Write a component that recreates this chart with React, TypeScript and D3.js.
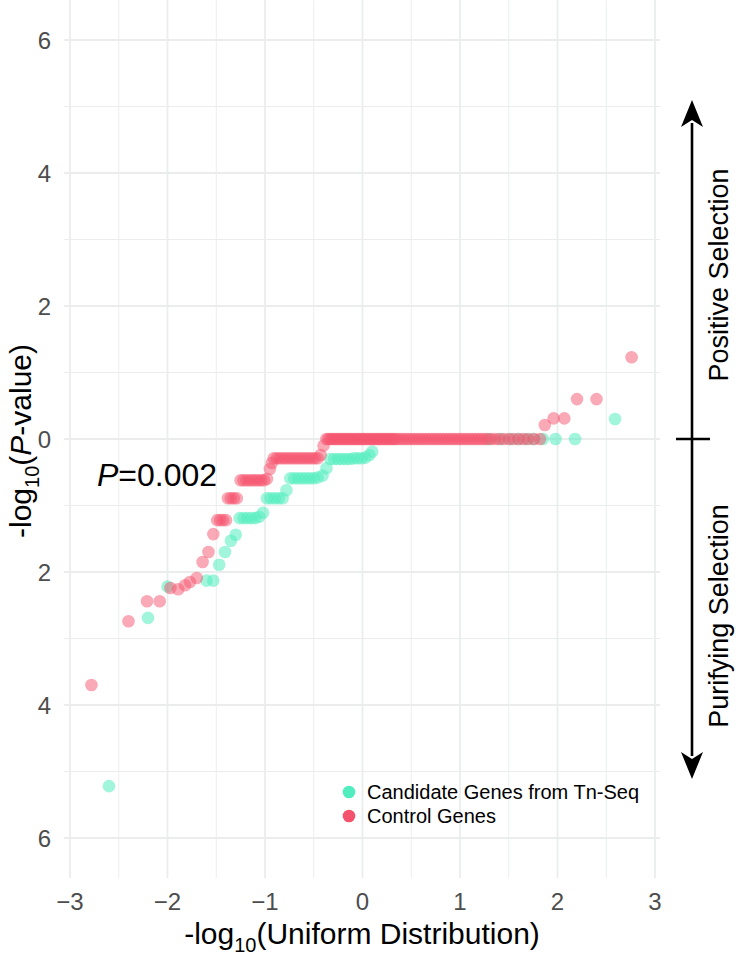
import React from "react";
import * as d3 from "d3";

// ---- data ----
// Candidate genes from Tn-Seq: [signed -log10 uniform, signed -log10 P]
const candidatePoints: [number, number][] = [
  [-2.6, -5.22], [-2.2, -2.69], [-2.0, -2.22], [-1.6, -2.13], [-1.53, -2.13],
  [-1.47, -1.89], [-1.41, -1.7], [-1.35, -1.53], [-1.3, -1.44],
  [-1.26, -1.19], [-1.22, -1.19], [-1.18, -1.19], [-1.14, -1.19], [-1.1, -1.19], [-1.06, -1.17],
  [-1.02, -1.11], [-0.98, -0.89], [-0.94, -0.89], [-0.9, -0.89], [-0.86, -0.89], [-0.82, -0.89],
  [-0.78, -0.77], [-0.74, -0.59], [-0.7, -0.59], [-0.66, -0.59], [-0.62, -0.59], [-0.58, -0.59],
  [-0.54, -0.59], [-0.5, -0.59], [-0.46, -0.58], [-0.41, -0.55], [-0.37, -0.44],
  [-0.33, -0.3], [-0.29, -0.3], [-0.25, -0.3], [-0.21, -0.3], [-0.17, -0.3], [-0.13, -0.3],
  [-0.09, -0.29], [-0.05, -0.29], [-0.01, -0.29], [0.03, -0.28], [0.07, -0.24], [0.1, -0.19],
  [1.3, 0], [1.42, 0], [1.52, 0], [1.6, 0], [1.68, 0], [1.75, 0],
  [1.85, 0], [1.98, 0], [2.18, 0], [2.59, 0.3],
];

// Control genes: [signed -log10 uniform, signed -log10 P]
const controlPoints: [number, number][] = [
  [-2.78, -3.7], [-2.4, -2.74], [-2.21, -2.44], [-2.08, -2.44], [-1.97, -2.24],
  [-1.89, -2.26], [-1.82, -2.2], [-1.77, -2.15], [-1.7, -2.09], [-1.64, -1.85],
  [-1.58, -1.7], [-1.53, -1.43], [-1.49, -1.22], [-1.46, -1.22], [-1.43, -1.22], [-1.4, -1.22],
  [-1.38, -0.89], [-1.35, -0.89], [-1.32, -0.89], [-1.29, -0.89],
  [-1.25, -0.62], [-1.22, -0.62], [-1.19, -0.62], [-1.16, -0.62], [-1.13, -0.62], [-1.1, -0.62],
  [-1.07, -0.62], [-1.04, -0.62], [-1.01, -0.62], [-0.98, -0.6], [-0.95, -0.45], [-0.93, -0.36],
  [-0.91, -0.29], [-0.88, -0.29], [-0.85, -0.29], [-0.82, -0.29], [-0.79, -0.29], [-0.76, -0.29],
  [-0.73, -0.29], [-0.7, -0.29], [-0.67, -0.29], [-0.64, -0.29], [-0.61, -0.29], [-0.58, -0.29],
  [-0.55, -0.29], [-0.52, -0.29], [-0.49, -0.29], [-0.46, -0.29], [-0.43, -0.24], [-0.4, -0.1],
  [-0.37, 0], [-0.35, 0], [-0.33, 0], [-0.31, 0], [-0.29, 0], [-0.27, 0], [-0.25, 0], [-0.23, 0],
  [-0.21, 0], [-0.19, 0], [-0.17, 0], [-0.15, 0], [-0.13, 0], [-0.11, 0], [-0.09, 0], [-0.07, 0],
  [-0.05, 0], [-0.03, 0], [-0.01, 0], [0.01, 0], [0.03, 0], [0.05, 0], [0.07, 0], [0.09, 0],
  [0.11, 0], [0.13, 0], [0.15, 0], [0.17, 0], [0.19, 0], [0.21, 0], [0.23, 0], [0.25, 0],
  [0.27, 0], [0.29, 0], [0.31, 0], [0.33, 0], [0.35, 0], [0.38, 0], [0.41, 0], [0.44, 0],
  [0.47, 0], [0.5, 0], [0.53, 0], [0.56, 0], [0.59, 0], [0.62, 0], [0.65, 0], [0.68, 0],
  [0.71, 0], [0.74, 0], [0.77, 0], [0.8, 0], [0.83, 0], [0.86, 0], [0.89, 0], [0.92, 0],
  [0.95, 0], [0.98, 0], [1.01, 0], [1.04, 0], [1.07, 0], [1.1, 0], [1.13, 0], [1.16, 0],
  [1.19, 0], [1.22, 0], [1.25, 0], [1.28, 0], [1.32, 0], [1.36, 0], [1.4, 0], [1.45, 0],
  [1.5, 0], [1.55, 0], [1.6, 0], [1.65, 0], [1.7, 0], [1.76, 0], [1.82, 0],
  [1.87, 0.21], [1.96, 0.31], [2.07, 0.31], [2.2, 0.6], [2.4, 0.6], [2.76, 1.23],
];

const xMajor = [-3, -2, -1, 0, 1, 2, 3];
const xMinor = [-2.5, -1.5, -0.5, 0.5, 1.5, 2.5];
const yMajor = [-6, -4, -2, 0, 2, 4, 6];
const yMinor = [-5, -3, -1, 1, 3, 5];
const yTickLabels = ["6", "4", "2", "0", "2", "4", "6"];
const xTickLabels = ["\u22123", "\u22122", "\u22121", "0", "1", "2", "3"];

const legendItems = [
  { label: "Candidate Genes from Tn-Seq", color: "#52EDBE" },
  { label: "Control Genes", color: "#F5536D" },
];

const FONT = "'Liberation Sans', Arial, Helvetica, sans-serif";

export default function App() {
  const W = 738;
  const H = 956;
  const x = d3.scaleLinear().domain([-3, 3]).range([70, 655]);
  const y = d3.scaleLinear().domain([0, 6]).range([439, 40]);
  const xDom: [number, number] = [-3.06, 3.05];
  const yDom: [number, number] = [-6.6, 6.6];
  const px0 = x(xDom[0]), px1 = x(xDom[1]);
  const py0 = y(yDom[1]), py1 = y(yDom[0]);
  const grid = "#EBEDED";
  const r = 6.3;

  const arrowX = 692;
  const arrowTop = 100;
  const arrowBot = 779;
  const headL = 27;
  const headW = 11;

  return (
    <svg width={W} height={H} style={{ position: "absolute", left: 0, top: 0, background: "#fff" }}
      fontFamily={FONT}>
      {/* grid */}
      {xMinor.map((v) => (
        <line key={"xm" + v} x1={x(v)} x2={x(v)} y1={py0} y2={py1} stroke={grid} strokeWidth={1} />
      ))}
      {yMinor.map((v) => (
        <line key={"ym" + v} x1={px0} x2={px1} y1={y(v)} y2={y(v)} stroke={grid} strokeWidth={1} />
      ))}
      {xMajor.map((v) => (
        <line key={"xM" + v} x1={x(v)} x2={x(v)} y1={py0} y2={py1} stroke={grid} strokeWidth={1.8} />
      ))}
      {yMajor.map((v) => (
        <line key={"yM" + v} x1={px0} x2={px1} y1={y(v)} y2={y(v)} stroke={grid} strokeWidth={1.8} />
      ))}

      {/* points */}
      {candidatePoints.map((d, i) => (
        <circle key={"c" + i} cx={x(d[0])} cy={y(d[1])} r={r} fill={legendItems[0].color} fillOpacity={0.55} />
      ))}
      {controlPoints.map((d, i) => (
        <circle key={"k" + i} cx={x(d[0])} cy={y(d[1])} r={r} fill={legendItems[1].color} fillOpacity={0.5} />
      ))}

      {/* y tick labels */}
      {yMajor.map((v, i) => (
        <text key={"yt" + v} x={51} y={y(v)} dy="0.36em" textAnchor="end" fontSize={24} fill="#4D4D4D">
          {yTickLabels[i]}
        </text>
      ))}
      {/* x tick labels */}
      {xMajor.map((v, i) => (
        <text key={"xt" + v} x={x(v)} y={910} textAnchor="middle" fontSize={24} fill="#4D4D4D">
          {xTickLabels[i]}
        </text>
      ))}

      {/* axis titles */}
      <text x={362} y={944} textAnchor="middle" fontSize={30} fill="#000">
        -log<tspan fontSize={20} dy={8}>10</tspan><tspan dy={-8}>(Uniform Distribution)</tspan>
      </text>
      <text transform="translate(31,441) rotate(-90)" textAnchor="middle" fontSize={30} fill="#000">
        -log<tspan fontSize={20} dy={8}>10</tspan><tspan dy={-8}>(</tspan><tspan fontStyle="italic">P</tspan>-value)
      </text>

      {/* annotation */}
      <text x={97} y={486} fontSize={32} fill="#000">
        <tspan fontStyle="italic">P</tspan>=0.002
      </text>

      {/* legend */}
      {legendItems.map((it, i) => (
        <g key={it.label} transform={`translate(349,${792 + i * 24})`}>
          <circle r={6.3} fill={it.color} />
          <text x={18} y={0} dy="0.36em" fontSize={20} fill="#000">{it.label}</text>
        </g>
      ))}

      {/* selection arrow */}
      <line x1={arrowX} x2={arrowX} y1={arrowTop + headL - 4} y2={arrowBot - headL + 4} stroke="#000" strokeWidth={2.6} />
      <path d={`M${arrowX},${arrowTop} L${arrowX + headW},${arrowTop + headL} L${arrowX},${arrowTop + headL - 7} L${arrowX - headW},${arrowTop + headL} Z`} fill="#000" />
      <path d={`M${arrowX},${arrowBot} L${arrowX + headW},${arrowBot - headL} L${arrowX},${arrowBot - headL + 7} L${arrowX - headW},${arrowBot - headL} Z`} fill="#000" />
      <line x1={676} x2={710} y1={y(0)} y2={y(0)} stroke="#000" strokeWidth={2.6} />
      <text transform="translate(728,275) rotate(-90)" textAnchor="middle" fontSize={27} fill="#000">Positive Selection</text>
      <text transform="translate(728,616) rotate(-90)" textAnchor="middle" fontSize={27} fill="#000">Purifying Selection</text>
    </svg>
  );
}
